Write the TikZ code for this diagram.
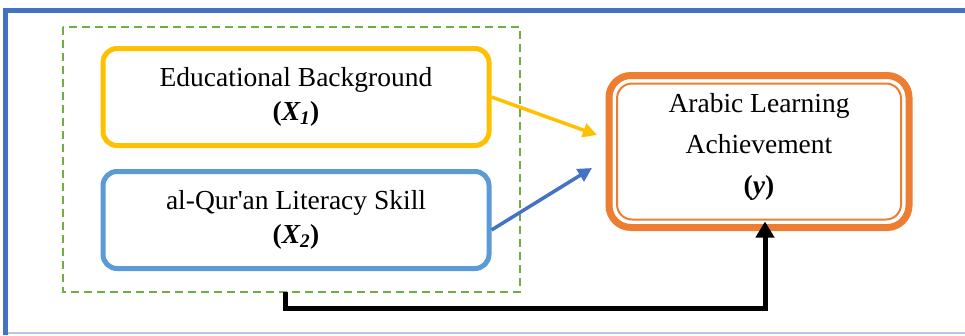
\documentclass[tikz,border=0pt]{standalone}
\usepackage{fontspec}
\setmainfont{Liberation Serif}
\usetikzlibrary{arrows.meta}
\definecolor{frameblue}{HTML}{4472C4}
\definecolor{lightframe}{HTML}{B4C7E7}
\definecolor{dgreen}{HTML}{70AD47}
\definecolor{yel}{HTML}{FFC000}
\definecolor{sky}{HTML}{5B9BD5}
\definecolor{org}{HTML}{ED7D31}
\begin{document}
\begin{tikzpicture}[x=1pt,y=-1pt,
  txt/.style={font=\fontsize{27.5}{34}\selectfont, align=center},
  varbox/.style={rounded corners=14pt, line width=5pt, minimum width=386pt, minimum height=97pt, inner sep=0pt},
  link/.style={line width=3.5pt, -{Triangle[length=14pt,width=14pt]}}]
\useasboundingbox (0,0) rectangle (965,335);
% frame
\draw[lightframe, line width=1.5pt] (5,333) -- (965,333);
\draw[frameblue, line width=5pt] (5,335) -- (5,10.5) -- (965,10.5);
% group
\draw[dgreen, line width=2.3pt, dash pattern=on 8pt off 5pt] (63,27) rectangle (520,292);
\node[varbox, draw=yel, txt] (x1) at (296,97) {Educational Background\\\textbf{(\textit{X\textsubscript{1}})}};
\node[varbox, draw=sky, txt] (x2) at (296,220) {al-Qur\textquotesingle an Literacy Skill\\\textbf{(\textit{X\textsubscript{2}})}};
\node[rounded corners=22pt, line width=7pt, draw=org, minimum width=300pt, minimum height=152pt, inner sep=0pt, outer sep=0pt] (y) at (759,151.5) {};
\draw[org, line width=2pt, rounded corners=15pt] (617,83.5) rectangle (901,219.5);
\node[txt, font=\fontsize{27.5}{41}\selectfont] (yt) at (759,147) {Arabic Learning\\Achievement\\\textbf{(\textit{y})}};
\coordinate (a1) at (597,135);
\coordinate (a2) at (592,168);
\draw[link, yel] (x1.east) -- (a1);
\draw[link, frameblue] ([yshift=-10pt]x2.east) -- (a2);
\coordinate (g) at (285,292);
\coordinate (c1) at (285,308);
\coordinate (c2) at (765,308);
\draw[line width=5pt, -{Triangle[length=16pt,width=18pt]}] (g) -- (c1) -- (c2) -- ([yshift=6pt]y.south -| c2);
\end{tikzpicture}
\end{document}
